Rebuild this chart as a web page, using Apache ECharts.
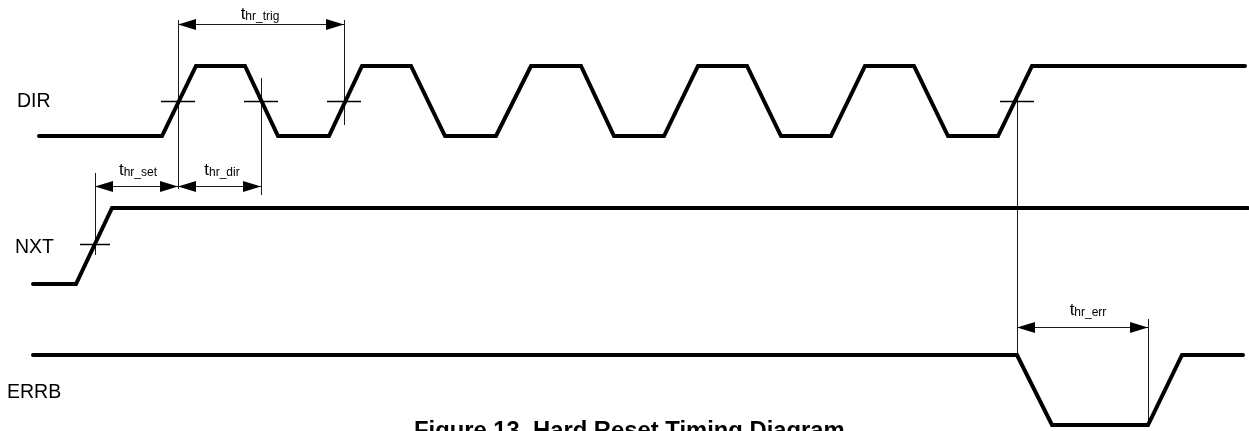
<!DOCTYPE html>
<html><head><meta charset="utf-8">
<script src="https://cdn.jsdelivr.net/npm/echarts@6/dist/echarts.min.js"></script>
<style>html,body{margin:0;padding:0;background:#fff}#c{width:1249px;height:431px}</style>
</head><body><div id="c"></div>
<script>
// ---- data (time axis units, logic levels) ----
const signalNames = ['DIR', 'NXT', 'ERRB'];
const dirTimes  = [39,162,196,245,278,329,362,411,445,496,531,581,614,664,698,747,781,831,865,914,948,998,1032,1245];
const dirLevels = [0,0,1,1,0,0,1,1,0,0,1,1,0,0,1,1,0,0,1,1,0,0,1,1];
const nxtTimes  = [33,76,112,1248];
const nxtLevels = [0,0,1,1];
const errTimes  = [33,1017,1052,1148,1182,1243];
const errLevels = [1,1,0,0,1,1];

// threshold crossings (time) per signal
const dirCrossings = [178,261,344,1017];
const nxtCrossings = [95];

// reference markers: time, top, bottom (vertical units)
const markerTimes   = [178,261,344,95,1017,1148];
const markerTops    = [20,78,20,173,95,319];
const markerBottoms = [189,195,125,255,355,425];

// timing parameters: start time, end time
const paramNames  = ['hr_trig','hr_set','hr_dir','hr_err'];
const paramStarts = [178,95,178,1017];
const paramEnds   = [344,178,261,1148];

const titleText = 'Figure 13. Hard Reset Timing Diagram';

// ---- layout (vertical units of the y axis) ----
const rows = {
  DIR:  {high:66,  low:136, mid:101, labelX:17, labelY:102},
  NXT:  {high:208, low:284, mid:244, labelX:15, labelY:248},
  ERRB: {high:355, low:425, mid:390, labelX:7,  labelY:393}
};
const paramArrowY = [24,186,186,327];
const paramLabelX = [260,138,222,1088];
const paramLabelY = [14,170,170,310];
const FONT = "'Liberation Sans', Arial, Helvetica, sans-serif";

function wave(times, levels, row) {
  return times.map((t, i) => [t, row.low + levels[i] * (row.high - row.low)]);
}
function signalSeries(name, times, levels) {
  return {
    type: 'line', name, data: wave(times, levels, rows[name]),
    symbol: 'none', silent: true, animation: false,
    lineStyle: {color: '#000', width: 4, cap: 'round', join: 'miter', miterLimit: 10}
  };
}

const tickData = dirCrossings.map(t => [t, rows.DIR.mid, 17])
  .concat(nxtCrossings.map(t => [t, rows.NXT.mid, 15]));
const markerData = markerTimes.map((t, i) => [t, markerTops[i], markerBottoms[i]]);
const paramData = paramNames.map((n, i) => [paramStarts[i], paramEnds[i], paramArrowY[i], paramLabelX[i], paramLabelY[i], i]);
const nameData = signalNames.map((n, i) => [rows[n].labelX, rows[n].labelY, i]);

const option = {
  animation: false,
  backgroundColor: '#fff',
  title: {
    text: titleText, left: 409, top: 414,
    textStyle: {fontFamily: FONT, fontWeight: 'bold', fontSize: 23.8, color: '#000'}
  },
  grid: {left: 0, right: 0, top: 0, bottom: 0},
  xAxis: {type: 'value', min: 0, max: 1249, show: false},
  yAxis: {type: 'value', min: 0, max: 431, inverse: true, show: false},
  series: [
    signalSeries('DIR', dirTimes, dirLevels),
    signalSeries('NXT', nxtTimes, nxtLevels),
    signalSeries('ERRB', errTimes, errLevels),
    {
      type: 'custom', name: 'markers', silent: true, clip: false, data: markerData,
      renderItem(params, api) {
        const a = api.coord([api.value(0), api.value(1)]);
        const b = api.coord([api.value(0), api.value(2)]);
        const x = Math.round(a[0]) + 0.5;
        return {type: 'line', shape: {x1: x, y1: a[1], x2: x, y2: b[1]},
                style: {stroke: '#1a1a1a', lineWidth: 1}};
      }
    },
    {
      type: 'custom', name: 'ticks', silent: true, clip: false, data: tickData,
      renderItem(params, api) {
        const c = api.coord([api.value(0), api.value(1)]);
        const h = api.value(2);
        const y = Math.round(c[1]) + 0.5;
        return {type: 'line', shape: {x1: c[0] - h, y1: y, x2: c[0] + h, y2: y},
                style: {stroke: '#000', lineWidth: 1.5}};
      }
    },
    {
      type: 'custom', name: 'params', silent: true, clip: false, data: paramData,
      renderItem(params, api) {
        const p1 = api.coord([api.value(0), api.value(2)]);
        const p2 = api.coord([api.value(1), api.value(2)]);
        const lp = api.coord([api.value(3), api.value(4)]);
        const idx = api.value(5);
        const y = Math.round(p1[1]) + 0.5;
        const L = 18, W = 5.5;
        return {type: 'group', children: [
          {type: 'line', shape: {x1: p1[0], y1: y, x2: p2[0], y2: y}, style: {stroke: '#1a1a1a', lineWidth: 1}},
          {type: 'polygon', shape: {points: [[p1[0], y], [p1[0] + L, y - W], [p1[0] + L, y + W]]}, style: {fill: '#000'}},
          {type: 'polygon', shape: {points: [[p2[0], y], [p2[0] - L, y - W], [p2[0] - L, y + W]]}, style: {fill: '#000'}},
          {type: 'text', x: lp[0], y: lp[1], style: {
            text: '{t|t}{s|' + paramNames[idx] + '}', align: 'center', verticalAlign: 'middle',
            fill: '#000', fontFamily: FONT,
            rich: {
              t: {fontSize: 17, lineHeight: 18, fontFamily: FONT, fill: '#000'},
              s: {fontSize: 12, lineHeight: 12, fontFamily: FONT, fill: '#000', verticalAlign: 'bottom'}
            }
          }}
        ]};
      }
    },
    {
      type: 'custom', name: 'names', silent: true, clip: false, data: nameData,
      renderItem(params, api) {
        const c = api.coord([api.value(0), api.value(1)]);
        return {type: 'text', x: c[0], y: c[1], style: {
          text: signalNames[api.value(2)], align: 'left', verticalAlign: 'middle',
          font: "19.5px " + FONT, fill: '#000'}};
      }
    }
  ]
};
const chart = echarts.init(document.getElementById('c'), null, {renderer: 'canvas'});
chart.setOption(option);
</script></body></html>
